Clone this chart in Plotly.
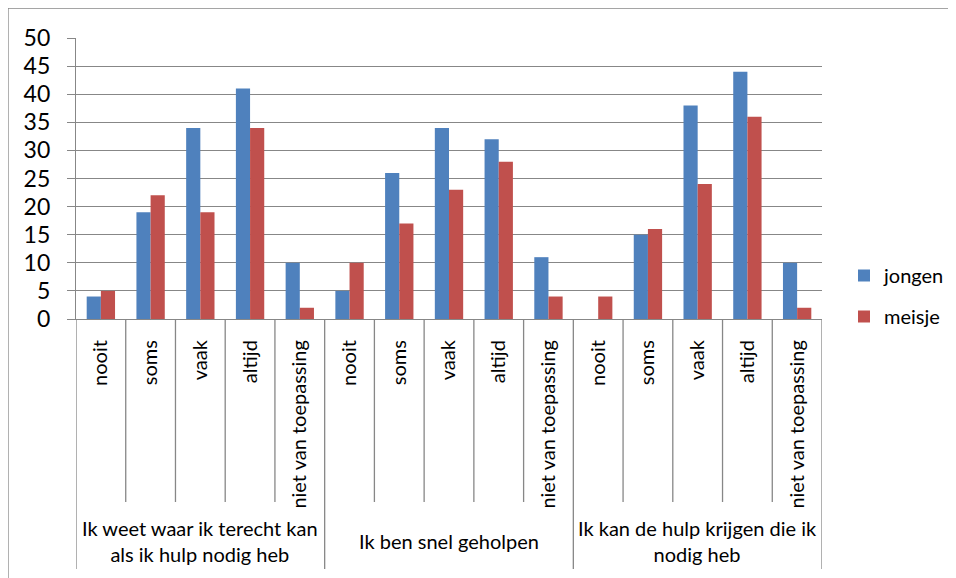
import plotly.graph_objects as go

groups = ["Ik weet waar ik terecht kan<br>als ik hulp nodig heb",
          "Ik ben snel geholpen",
          "Ik kan de hulp krijgen die ik<br>nodig heb"]
answers = ["nooit", "soms", "vaak", "altijd", "niet van toepassing"]
jongen = [4, 19, 34, 41, 10, 5, 26, 34, 32, 11, 0, 15, 38, 44, 10]
meisje = [5, 22, 19, 34, 2, 10, 17, 23, 28, 4, 4, 16, 24, 36, 2]
y_ticks = [0, 5, 10, 15, 20, 25, 30, 35, 40, 45, 50]

FONT = "Lato"
GRID = "#878787"
n = len(groups) * len(answers)
xs = list(range(n))
sub_labels = [a for g in groups for a in answers]

fig = go.Figure()
fig.add_trace(go.Bar(x=xs, y=jongen, name="jongen", marker_color="#4F81BD",
                     marker_line_width=0, legendgroup="a"))
fig.add_trace(go.Bar(x=xs, y=meisje, name="meisje", marker_color="#C0504D",
                     marker_line_width=0, legendgroup="b"))

OFF = 8  # browser body margin
W, H = 956 - OFF, 578 - OFF
L, R, T, B = 76, 822, 38, 319  # screen pixels of plot area
ph = B - T
pw = R - L

def py(pix):
    return (B - pix) / ph

def px(pix):
    return (pix - L) / pw

shapes = []
for i in range(n + 1):
    xb = i - 0.5
    is_group = (i % len(answers) == 0)
    shapes.append(dict(type="line", xref="x", yref="paper", x0=xb, x1=xb,
                       y0=0, y1=py(569 if is_group else 502),
                       line=dict(color=GRID, width=1.3)))
# outer chart border (left and top)
shapes.append(dict(type="line", xref="paper", yref="paper", x0=px(8), x1=px(8),
                   y0=py(8), y1=py(590), line=dict(color=GRID, width=1.3)))
shapes.append(dict(type="line", xref="paper", yref="paper", x0=px(8), x1=px(970),
                   y0=py(8), y1=py(8), line=dict(color=GRID, width=1.3)))

annotations = []
for gi, g in enumerate(groups):
    center = gi * len(answers) + (len(answers) - 1) / 2
    annotations.append(dict(x=center, xref="x", y=py(541), yref="paper",
                            text=g, showarrow=False, xanchor="center",
                            yanchor="middle",
                            font=dict(family=FONT, size=20, color="#000000")))

fig.update_layout(
    width=W, height=H,
    margin=dict(l=L - OFF, r=W - (R - OFF), t=T - OFF, b=H - (B - OFF),
                autoexpand=False),
    paper_bgcolor="white", plot_bgcolor="white",
    barmode="group", bargap=0.43, bargroupgap=0,
    font=dict(family=FONT, color="#000000"),
    shapes=shapes, annotations=annotations,
    legend=dict(x=px(844), y=py(296), xanchor="left", yanchor="middle",
                font=dict(family=FONT, size=20), tracegroupgap=12,
                itemwidth=30, bgcolor="rgba(0,0,0,0)"),
    showlegend=True,
)
fig.update_xaxes(range=[-0.5, n - 0.5], tickmode="array", tickvals=xs,
                 ticktext=sub_labels, tickangle=-90, ticks="",
                 tickfont=dict(family=FONT, size=20, color="#000000"),
                 showline=True, linecolor=GRID, linewidth=1.3,
                 showgrid=False, zeroline=False, ticklabelstandoff=12)
fig.update_yaxes(range=[0, 50], tickmode="array", tickvals=y_ticks,
                 ticks="outside", ticklen=8, tickcolor=GRID, tickwidth=1.3,
                 tickfont=dict(family=FONT, size=23, color="#000000"),
                 showline=True, linecolor=GRID, linewidth=1.3,
                 showgrid=True, gridcolor=GRID, gridwidth=1.3,
                 zeroline=False, ticklabelstandoff=12)

fig.write_html("out.html")
